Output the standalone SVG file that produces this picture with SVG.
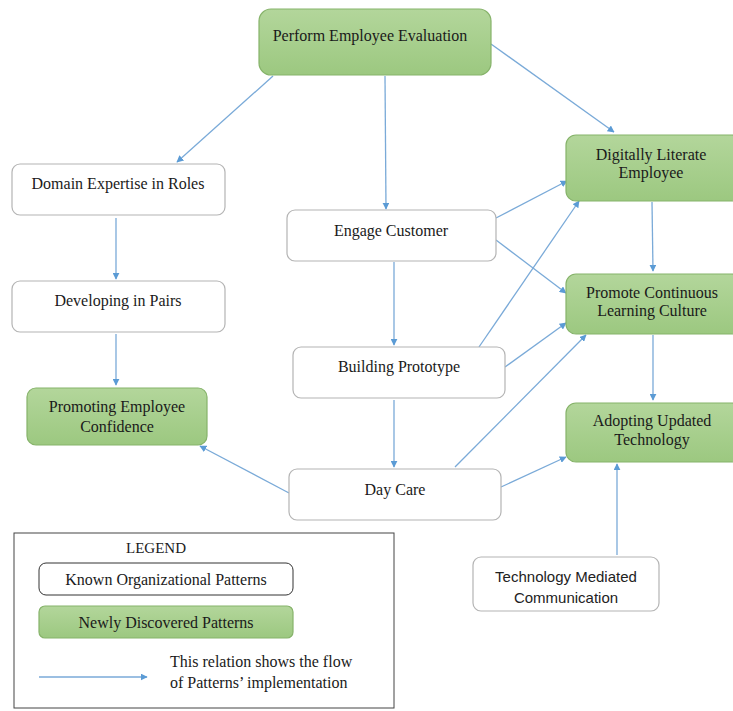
<svg xmlns="http://www.w3.org/2000/svg" width="733" height="711" viewBox="0 0 733 711">
<defs>
<linearGradient id="g" x1="0" y1="0" x2="0" y2="1">
<stop offset="0" stop-color="#b3d69b"/>
<stop offset="1" stop-color="#9cc880"/>
</linearGradient>
<marker id="a" viewBox="0 0 10 10" refX="9" refY="5" markerWidth="7" markerHeight="7" orient="auto" markerUnits="userSpaceOnUse">
<path d="M0,0 L10,5 L0,10 z" fill="#5b9bd5"/>
</marker>
<style>
.k{fill:#fff;stroke:#b4b4b4;stroke-width:1.2}
.n{fill:url(#g);stroke:#86b36a;stroke-width:1.2}
.t{font-family:"Liberation Serif","Times New Roman",serif;font-size:16px;fill:#1a1a1a;text-anchor:middle}
.s{font-family:"Liberation Sans",Arial,sans-serif;font-size:15px;fill:#222;text-anchor:middle}
.e{stroke:#7aaad8;stroke-width:1.3;fill:none;marker-end:url(#a)}
</style>
</defs>
<rect width="733" height="711" fill="#fff"/>
<g id="connectors">
<line class="e" x1="273" y1="76" x2="177" y2="162"/>
<line class="e" x1="385" y1="76" x2="386" y2="209"/>
<line class="e" x1="491" y1="44" x2="614" y2="132"/>
<line class="e" x1="116" y1="218" x2="116" y2="279"/>
<line class="e" x1="116" y1="334" x2="116" y2="385"/>
<line class="e" x1="394" y1="262" x2="394" y2="345"/>
<line class="e" x1="496" y1="218" x2="567" y2="181"/>
<line class="e" x1="496" y1="240" x2="566" y2="293"/>
<line class="e" x1="479" y1="347" x2="579" y2="201"/>
<line class="e" x1="505" y1="367" x2="566" y2="323"/>
<line class="e" x1="394" y1="400" x2="394" y2="467"/>
<line class="e" x1="289" y1="493" x2="200" y2="446"/>
<line class="e" x1="455" y1="467" x2="586" y2="335"/>
<line class="e" x1="501" y1="487" x2="566" y2="457"/>
<line class="e" x1="652" y1="202" x2="653" y2="271"/>
<line class="e" x1="653" y1="335" x2="653" y2="400"/>
<line class="e" x1="617" y1="555" x2="617" y2="464"/>
</g>
<g id="perform-employee-evaluation">
<rect class="n" x="259" y="9" width="232" height="66" rx="12"/>
<text class="t" x="370" y="41">Perform Employee Evaluation</text>
</g>
<g id="domain-expertise">
<rect class="k" x="12" y="164" width="213" height="51" rx="8"/>
<text class="t" x="118" y="189">Domain Expertise in Roles</text>
</g>
<g id="developing-in-pairs">
<rect class="k" x="12" y="281" width="213" height="51" rx="8"/>
<text class="t" x="118" y="306">Developing in Pairs</text>
</g>
<g id="promoting-employee-confidence">
<rect class="n" x="27" y="388" width="180" height="57" rx="9"/>
<text class="t" x="117" y="412">Promoting Employee</text>
<text class="t" x="117" y="432">Confidence</text>
</g>
<g id="engage-customer">
<rect class="k" x="287" y="210" width="209" height="51" rx="8"/>
<text class="t" x="391" y="236">Engage Customer</text>
</g>
<g id="building-prototype">
<rect class="k" x="293" y="347" width="212" height="51" rx="8"/>
<text class="t" x="399" y="372">Building Prototype</text>
</g>
<g id="day-care">
<rect class="k" x="289" y="469" width="212" height="51" rx="8"/>
<text class="t" x="395" y="495">Day Care</text>
</g>
<g id="digitally-literate-employee">
<rect class="n" x="566" y="135" width="175" height="66" rx="10"/>
<text class="t" x="651" y="160">Digitally Literate</text>
<text class="t" x="651" y="178">Employee</text>
</g>
<g id="promote-continuous-learning">
<rect class="n" x="566" y="274" width="175" height="60" rx="10"/>
<text class="t" x="652" y="298">Promote Continuous</text>
<text class="t" x="652" y="316">Learning Culture</text>
</g>
<g id="adopting-updated-technology">
<rect class="n" x="566" y="403" width="175" height="59" rx="10"/>
<text class="t" x="652" y="426">Adopting Updated</text>
<text class="t" x="652" y="445">Technology</text>
</g>
<g id="technology-mediated-communication">
<rect class="k" x="473" y="557" width="186" height="54" rx="8"/>
<text class="s" x="566" y="582">Technology Mediated</text>
<text class="s" x="566" y="603">Communication</text>
</g>
<g id="legend">
<rect x="14" y="533" width="380" height="175" fill="#fff" stroke="#444" stroke-width="1"/>
<text class="t" x="156" y="553" style="font-size:15px">LEGEND</text>
<rect x="39" y="563" width="254" height="32" rx="7" fill="#fff" stroke="#333" stroke-width="1"/>
<text class="t" x="166" y="585">Known Organizational Patterns</text>
<rect class="n" x="39" y="606" width="254" height="32" rx="6"/>
<text class="t" x="166" y="628">Newly Discovered Patterns</text>
<line class="e" x1="39" y1="677" x2="147" y2="677"/>
<text class="t" x="170" y="667" style="text-anchor:start">This relation shows the flow</text>
<text class="t" x="170" y="688" style="text-anchor:start">of Patterns’ implementation</text>
</g>
</svg>
